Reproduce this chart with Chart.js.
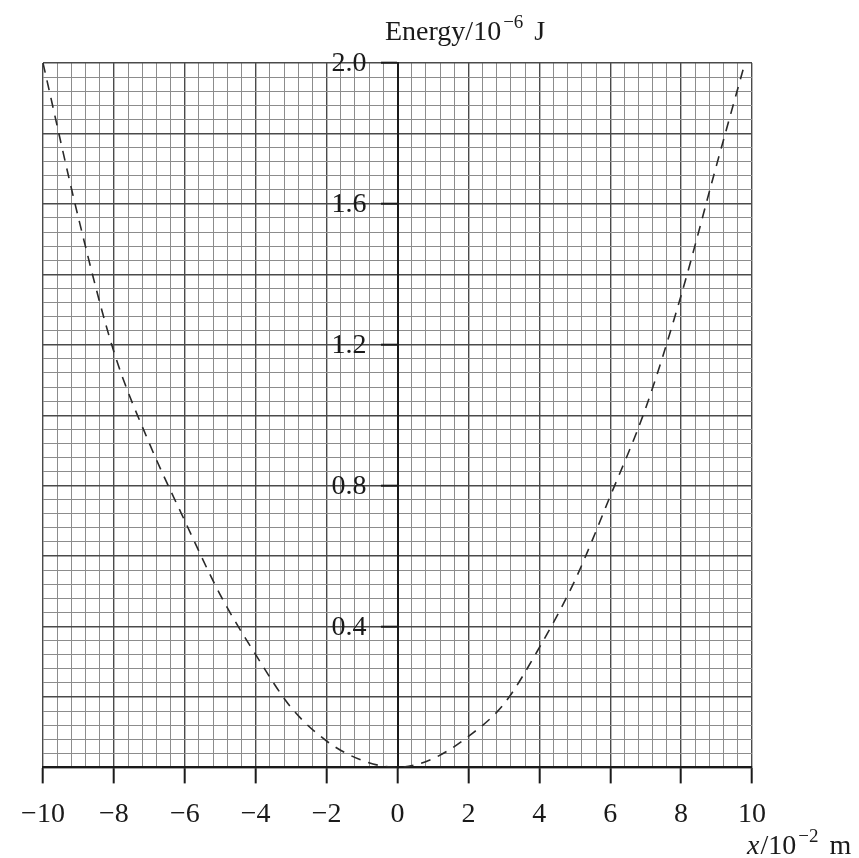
<!DOCTYPE html>
<html>
<head>
<meta charset="utf-8">
<script src="https://cdn.jsdelivr.net/npm/chart.js@4/dist/chart.umd.min.js"></script>
<style>
  html, body { margin: 0; padding: 0; background: #fff; }
  #wrap { width: 859px; height: 858px; }
</style>
</head>
<body>
<div id="wrap"><canvas id="c" width="859" height="858"></canvas></div>
<script>
// ---- data ----
const positions = [-10, -9, -8, -7, -6, -5, -4, -3, -2, -1, 0, 1, 2, 3, 4, 5, 6, 7, 8, 9, 9.8];
const energy    = [2.0, 1.56, 1.18, 0.92, 0.70, 0.49, 0.32, 0.17, 0.075, 0.02, 0.0, 0.025, 0.088, 0.18, 0.34, 0.53, 0.77, 1.02, 1.34, 1.71, 2.0];
const xTickLabels = [-10, -8, -6, -4, -2, 0, 2, 4, 6, 8, 10];
const yTickLabels = [0.4, 0.8, 1.2, 1.6, 2.0];
const xMin = -10, xMax = 10, xMinorStep = 0.4;
const yMin = 0, yMax = 2.0, yMinorStep = 0.04;
const xTitle = { main: 'x', rest: '/10', sup: '\u22122', tail: ' m' };
const yTitle = { main: 'Energy/10', sup: '\u22126', tail: ' J' };

const near = (a, b) => Math.abs(a - b) < 1e-6;
const isIn = (arr, v) => arr.some(t => near(t, v));
const isMultiple = (v, m) => Math.abs(v / m - Math.round(v / m)) < 1e-6;

function buildTicks(min, max, step) {
  const n = Math.round((max - min) / step);
  const out = [];
  for (let i = 0; i <= n; i++) out.push({ value: Math.round((min + i * step) * 1000) / 1000 });
  return out;
}

const serif = '"Liberation Serif", "DejaVu Serif", serif';
const FS = 28, SUP = 19;
const TICK = 16;

const titlesPlugin = {
  id: 'titles',
  afterDraw(chart) {
    const ctx = chart.ctx;
    ctx.save();
    ctx.fillStyle = '#1a1a1a';
    ctx.textBaseline = 'alphabetic';
    ctx.textAlign = 'left';
    // y-axis title at top
    let x = 385, y = 40;
    ctx.font = FS + 'px ' + serif;
    ctx.fillText(yTitle.main, x, y);
    x += ctx.measureText(yTitle.main).width + 2;
    ctx.font = SUP + 'px ' + serif;
    ctx.fillText(yTitle.sup, x, y - 12);
    x += ctx.measureText(yTitle.sup).width + 4;
    ctx.font = FS + 'px ' + serif;
    ctx.fillText(yTitle.tail, x, y);
    // x-axis title bottom right
    x = 747; y = 854;
    ctx.font = 'italic ' + FS + 'px ' + serif;
    ctx.fillText(xTitle.main, x, y);
    x += ctx.measureText(xTitle.main).width + 1;
    ctx.font = FS + 'px ' + serif;
    ctx.fillText(xTitle.rest, x, y);
    x += ctx.measureText(xTitle.rest).width + 2;
    ctx.font = SUP + 'px ' + serif;
    ctx.fillText(xTitle.sup, x, y - 12);
    x += ctx.measureText(xTitle.sup).width + 4;
    ctx.font = FS + 'px ' + serif;
    ctx.fillText(xTitle.tail, x, y);

    // y tick labels, left of the axis line that sits at x = 0
    const xs = chart.scales.x, ys = chart.scales.y;
    const ax = xs.getPixelForValue(0);
    ctx.font = FS + 'px ' + serif;
    ctx.textAlign = 'right';
    ctx.textBaseline = 'middle';
    yTickLabels.forEach(v => {
      ctx.fillText(v.toFixed(1), ax - TICK - 15, ys.getPixelForValue(v) + 1);
    });
    ctx.restore();
  }
};

new Chart(document.getElementById('c'), {
  type: 'line',
  data: {
    datasets: [{
      data: positions.map((p, i) => ({ x: p, y: energy[i] })),
      borderColor: '#2a2a2a',
      borderWidth: 1.6,
      borderDash: [10, 8],
      pointRadius: 0,
      fill: false,
      cubicInterpolationMode: 'monotone'
    }]
  },
  options: {
    responsive: false,
    animation: false,
    events: [],
    layout: { padding: { left: 43, right: 107, top: 63, bottom: 13 } },
    plugins: { legend: { display: false }, tooltip: { enabled: false }, title: { display: false } },
    scales: {
      x: {
        type: 'linear',
        min: xMin, max: xMax,
        position: 'bottom',
        afterBuildTicks: s => { s.ticks = buildTicks(xMin, xMax, xMinorStep); },
        ticks: {
          autoSkip: false, maxRotation: 0, minRotation: 0,
          padding: 14,
          color: '#1a1a1a',
          font: { family: serif, size: FS },
          callback: v => isIn(xTickLabels, v) ? (v < 0 ? '\u2212' + Math.abs(v) : String(v)) : ''
        },
        grid: {
          drawTicks: true,
          tickLength: TICK,
          tickWidth: 2,
          tickColor: c => isIn(xTickLabels, c.tick.value) ? '#1a1a1a' : 'rgba(0,0,0,0)',
          color: c => (c.tick && isMultiple(c.tick.value, 2)) ? '#4a4a4a' : '#8c8c8c',
          lineWidth: c => (c.tick && isMultiple(c.tick.value, 2)) ? 1.4 : 1
        },
        border: { display: true, color: '#1a1a1a', width: 2 }
      },
      y: {
        type: 'linear',
        min: yMin, max: yMax,
        position: { x: 0 },
        afterBuildTicks: s => { s.ticks = buildTicks(yMin, yMax, yMinorStep); },
        ticks: {
          autoSkip: false,
          padding: 4,
          font: { family: serif, size: 10 },
          callback: () => ''
        },
        grid: {
          drawTicks: true,
          tickLength: TICK,
          tickWidth: 2,
          tickColor: c => isIn(yTickLabels, c.tick.value) ? '#1a1a1a' : 'rgba(0,0,0,0)',
          color: c => (c.tick && isMultiple(c.tick.value, 0.2)) ? '#4a4a4a' : '#8c8c8c',
          lineWidth: c => (c.tick && isMultiple(c.tick.value, 0.2)) ? 1.4 : 1
        },
        border: { display: true, color: '#1a1a1a', width: 2 }
      }
    }
  },
  plugins: [titlesPlugin]
});
</script>
</body>
</html>
